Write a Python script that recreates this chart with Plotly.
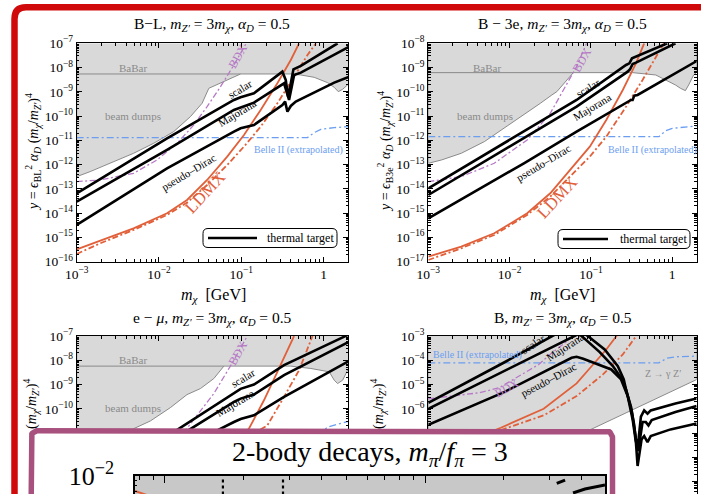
import numpy as np
import plotly.graph_objects as go

W, H = 701, 494
SERIF = "Liberation Serif"

# ================= DATA: log10(m_chi / GeV) and log10(y) =================
# ---- Panel 1: B-L ----
bl_excl_lm = [-3.0, -3.0, -2.837, -2.593, -2.309, -2.065, -1.821, -1.618, -1.476, -1.394, -1.211, -1.008,
              -0.398, -0.276, -0.114, 0.049, 0.130, 0.179, 0.232, 0.313, 0.313]
bl_excl_ly = [-7.0, -12.495, -12.288, -11.945, -11.533, -11.121, -10.640, -10.022, -9.473, -8.854, -8.580, -8.264,
              -8.264, -8.305, -8.401, -8.621, -8.813, -8.992, -8.896, -8.648, -7.0]
bl_babar_lm = [-3.0, -1.008]
bl_babar_ly = [-8.264, -8.264]
bl_scalar_lm = [-3.0, -1.902, -1.089, -1.008, -0.846, -0.500, -0.459, -0.431, -0.398, -0.366, -0.276, 0.171]
bl_scalar_ly = [-13.181, -10.915, -9.335, -9.225, -9.060, -8.168, -8.511, -9.198, -8.648, -8.071, -7.934, -7.0]
bl_major_lm = [-3.0, -1.902, -1.089, -1.008, -0.846, -0.480, -0.447, -0.419, -0.390, -0.358, -0.276, 0.313]
bl_major_ly = [-13.525, -11.396, -9.747, -9.637, -9.445, -8.648, -8.992, -9.335, -8.854, -8.305, -8.209, -7.137]
bl_pdirac_lm = [-3.0, -1.902, -1.089, -1.008, -0.846, -0.500, -0.467, -0.439, -0.398, -0.337, 0.130, 0.313]
bl_pdirac_ly = [-14.486, -12.151, -10.640, -10.503, -10.365, -9.541, -9.404, -9.816, -9.582, -9.404, -8.621, -8.374]
bl_ldmx_lm = [-3.0, -2.715, -2.309, -1.902, -1.659, -1.415, -1.171, -0.967, -0.764, -0.561, -0.398, -0.297]
bl_ldmx_ly = [-15.489, -15.132, -14.624, -14.005, -13.456, -12.632, -11.670, -10.777, -9.747, -8.648, -7.687, -7.0]
bl_ldmx2_lm = [-3.0, -2.715, -2.309, -1.902, -1.659, -1.415, -1.171, -0.967, -0.764, -0.561, -0.358, -0.195, -0.093]
bl_ldmx2_ly = [-15.681, -15.242, -14.692, -14.074, -13.566, -12.838, -12.014, -11.258, -10.434, -9.473, -8.374, -7.481, -7.0]
bl_bdx_lm = [-3.0, -2.715, -2.309, -2.024, -1.780, -1.577, -1.415, -1.252, -1.089, -0.967, -0.939]
bl_bdx_ly = [-12.701, -12.632, -12.357, -11.808, -11.121, -10.365, -9.610, -8.786, -7.893, -7.137, -7.0]
bl_belle_lm = [-3.0, -0.195, -0.114, -0.033, 0.130, 0.313]
bl_belle_ly = [-10.887, -10.887, -10.681, -10.544, -10.475, -10.434]

# ---- Panel 2: B - 3e ----
b3e_excl_lm = [-3.0, -3.0, -2.838, -2.595, -2.311, -2.068, -1.824, -1.622, -1.480, -1.419, -1.216, -0.487,
               -0.203, -0.081, 0.040, 0.101, 0.162, 0.202, 0.263, 0.301, 0.301]
b3e_excl_ly = [-8.0, -12.945, -12.808, -12.533, -12.052, -11.503, -10.953, -10.473, -10.129, -9.992, -9.209, -9.209,
               -9.305, -9.511, -9.717, -9.854, -9.951, -9.717, -9.305, -9.2, -8.0]
b3e_babar_lm = [-3.0, -1.216]
b3e_babar_ly = [-9.209, -9.209]
b3e_scalar_lm = [-3.0, -1.824, -1.176, -0.568, -0.527, -0.495, -0.446, -0.365, -0.061]
b3e_scalar_ly = [-13.975, -11.640, -10.335, -8.893, -8.824, -8.618, -8.549, -8.440, -8.0]
b3e_major_lm = [-3.0, -1.824, -1.176, -0.548, -0.519, -0.487, -0.446, 0.040]
b3e_major_ly = [-14.250, -11.915, -10.610, -9.168, -9.071, -8.852, -8.797, -8.0]
b3e_pdirac_lm = [-3.0, -1.824, -1.176, -0.507, -0.487, -0.467, -0.426, 0.301]
b3e_pdirac_ly = [-15.212, -12.945, -11.640, -10.335, -10.335, -10.157, -10.129, -8.73]
b3e_ldmx_lm = [-3.0, -2.595, -2.189, -1.784, -1.500, -1.257, -1.014, -0.811, -0.608, -0.446, -0.345]
b3e_ldmx_ly = [-16.791, -16.379, -15.830, -15.005, -14.181, -13.220, -12.258, -11.159, -9.923, -8.824, -8.0]
b3e_ldmx2_lm = [-3.0, -2.595, -2.189, -1.784, -1.500, -1.257, -1.014, -0.811, -0.568, -0.365, -0.203, -0.102]
b3e_ldmx2_ly = [-16.929, -16.448, -15.898, -15.074, -14.319, -13.495, -12.670, -11.846, -10.610, -9.511, -8.549, -8.0]
b3e_bdx_lm = [-3.0, -2.595, -2.189, -1.784, -1.500, -1.338, -1.176, -1.054]
b3e_bdx_ly = [-13.701, -13.495, -12.945, -11.984, -10.885, -9.923, -8.962, -8.0]
b3e_belle_lm = [-3.0, -0.163, -0.081, 0.0, 0.301]
b3e_belle_ly = [-11.846, -11.846, -11.599, -11.503, -11.407]

# ---- Panel 3: e - mu ----
emu_excl_lm = [-3.0, -3.0, -2.593, -2.309, -2.106, -1.862, -1.659, -1.496, -1.333, -1.211, -0.398, -0.154,
               0.069, 0.130, 0.171, 0.232, 0.313, 0.313]
emu_excl_ly = [-7.0, -12.683, -11.579, -10.821, -10.503, -9.952, -9.414, -9.166, -8.752, -8.241, -8.241, -8.338,
               -8.476, -8.821, -8.959, -8.821, -8.269, -7.0]
emu_babar_lm = [-3.0, -1.211]
emu_babar_ly = [-8.241, -8.241]
emu_scalar_lm = [-3.0, -1.821, -1.089, -1.008, -0.846, -0.480, 0.252, 0.313]
emu_scalar_ly = [-13.538, -10.959, -9.345, -9.179, -9.0, -8.200, -7.028, -6.917]
emu_major_lm = [-3.0, -1.659, -1.089, -1.008, -0.846, -0.480, 0.313]
emu_major_ly = [-13.924, -10.917, -9.717, -9.579, -9.414, -8.614, -7.234]
emu_pdirac_lm = [-3.0, -1.333, -1.089, -1.008, -0.846, -0.480, 0.313]
emu_pdirac_ly = [-14.628, -10.959, -10.545, -10.421, -10.269, -9.510, -8.021]
emu_ldmx_lm = [-3.0, -2.715, -2.309, -1.902, -1.659, -1.415, -1.171, -0.907, -0.724, -0.561, -0.459, -0.358]
emu_ldmx_ly = [-15.489, -15.132, -14.624, -14.005, -13.456, -12.632, -11.670, -10.821, -9.648, -8.476, -7.717, -7.0]
emu_ldmx2_lm = [-3.0, -2.715, -2.309, -1.902, -1.659, -1.415, -1.171, -0.967, -0.683, -0.480, -0.297, -0.134]
emu_ldmx2_ly = [-15.681, -15.242, -14.692, -14.074, -13.566, -12.838, -12.014, -11.258, -10.683, -9.510, -8.407, -7.0]
emu_bdx_lm = [-3.0, -2.715, -2.309, -2.024, -1.679, -1.333, -1.089, -0.927]
emu_bdx_ly = [-12.701, -12.632, -12.357, -11.808, -10.890, -9.372, -7.993, -7.0]
emu_belle_lm = [-3.0, -0.033, 0.049, 0.313]
emu_belle_ly = [-11.0, -11.0, -10.752, -10.503]

# ---- Panel 4: B ----
b_excl_lm = [-3.0, -3.0, 0.301, 0.301]
b_excl_ly = [-3.0, -10.01, -4.794, -3.0]
b_scalar_lm = [-3.0, -2.068, -1.216, -1.034, -0.831, -0.669, -0.596, -0.568, -0.535, -0.499, -0.463, -0.434,
               -0.414, -0.385, -0.345, -0.304, -0.264, 0.040, 0.300]
b_scalar_ly = [-5.750, -4.091, -2.527, -3.007, -3.556, -4.241, -4.790, -5.202, -5.586, -6.093, -6.848, -7.602,
               -7.259, -6.326, -6.066, -6.203, -6.066, -5.778, -5.572]
b_major_lm = [-3.0, -2.068, -1.176, -1.148, -1.103, -0.892, -0.730, -0.629, -0.576, -0.544, -0.507, -0.471,
              -0.442, -0.418, -0.394, -0.365, -0.325, -0.292, -0.252, 0.040, 0.300]
b_major_ly = [-5.997, -4.461, -2.979, -2.911, -3.034, -3.665, -4.241, -4.722, -5.133, -5.476, -5.915, -6.601,
              -7.396, -7.740, -7.122, -6.546, -6.546, -6.683, -6.464, -6.134, -5.888]
b_pdirac_lm = [-3.0, -2.068, -1.237, -1.176, -1.095, -0.750, -0.629, -0.548, -0.487, -0.446, -0.426, -0.398,
               -0.377, -0.345, -0.304, -0.264, -0.021, 0.300]
b_pdirac_ly = [-6.656, -5.311, -3.898, -3.857, -3.940, -4.379, -4.790, -5.476, -6.436, -7.396, -8.357, -7.740,
               -7.259, -7.122, -7.369, -7.122, -6.848, -6.601]
b_ldmx_lm = [-3.0, -2.108, -1.581, -1.176, -0.973, -0.811, -0.681]
b_ldmx_ly = [-7.945, -6.779, -5.997, -4.955, -4.173, -3.556, -2.979]
b_ldmx2_lm = [-3.0, -2.108, -1.581, -1.176, -0.852, -0.608, -0.438]
b_ldmx2_ly = [-8.055, -6.875, -6.271, -5.476, -4.584, -3.761, -2.979]
b_bdx_lm = [-3.0, -2.372, -2.128, -1.885, -1.642, -1.480, -1.318, -1.216]
b_bdx_ly = [-5.586, -5.339, -5.133, -4.653, -4.173, -3.693, -3.281, -2.979]
b_belle_lm = [-3.0, -0.163, -0.061, 0.040, 0.300]
b_belle_ly = [-4.104, -4.104, -3.912, -3.857, -3.830]

# ---- Inset: 2-body decays (only its top strip is visible) ----
ins_dot_lm = [-1.777, -1.546]
ins_dot_ly = [-2.035, -2.30]
ins_seg_lm = [-0.4935, -0.4615]
ins_seg_ly = [-2.073, -2.040]
ins_curve_lm = [-0.431, -0.385, -0.308]
ins_curve_ly = [-2.170, -2.130, -2.090]
ins_orange_lm = [-2.115, -2.070]
ins_orange_ly = [-2.150, -2.190]

# ================= STYLE =================
GRAY_FILL = "#d9d9d9"
GRAY_LINE = "#8a8a8a"
ORANGE = "#e1603a"
PURPLE = "#b679c6"
BLUE = "#6b9ef0"
BOX = "#a8507e"
RED = "#d00a0a"


def lin(v):
    return [10.0 ** t for t in v]


fig = go.Figure()


def line(lm, ly, ax, color, width, dash="solid"):
    fig.add_trace(go.Scatter(x=lin(lm), y=lin(ly), mode="lines", xaxis=ax[0], yaxis=ax[1],
                             line=dict(color=color, width=width, dash=dash), hoverinfo="skip"))


def region(lm, ly, ax, color=GRAY_FILL, lcolor=GRAY_LINE):
    fig.add_trace(go.Scatter(x=lin(lm), y=lin(ly), mode="lines", fill="toself", fillcolor=color,
                             xaxis=ax[0], yaxis=ax[1], line=dict(color=lcolor, width=1), hoverinfo="skip"))


DD = "6px,2.5px,2px,2.5px"
BD = "7px,3px,2px,3px"

panels = [
    (("x", "y"), bl_excl_lm, bl_excl_ly, (bl_babar_lm, bl_babar_ly), bl_belle_lm, bl_belle_ly, bl_bdx_lm, bl_bdx_ly,
     bl_ldmx_lm, bl_ldmx_ly, bl_ldmx2_lm, bl_ldmx2_ly,
     [(bl_scalar_lm, bl_scalar_ly), (bl_major_lm, bl_major_ly), (bl_pdirac_lm, bl_pdirac_ly)]),
    (("x2", "y2"), b3e_excl_lm, b3e_excl_ly, (b3e_babar_lm, b3e_babar_ly), b3e_belle_lm, b3e_belle_ly, b3e_bdx_lm,
     b3e_bdx_ly, b3e_ldmx_lm, b3e_ldmx_ly, b3e_ldmx2_lm, b3e_ldmx2_ly,
     [(b3e_scalar_lm, b3e_scalar_ly), (b3e_major_lm, b3e_major_ly), (b3e_pdirac_lm, b3e_pdirac_ly)]),
    (("x3", "y3"), emu_excl_lm, emu_excl_ly, (emu_babar_lm, emu_babar_ly), emu_belle_lm, emu_belle_ly, emu_bdx_lm,
     emu_bdx_ly, emu_ldmx_lm, emu_ldmx_ly, emu_ldmx2_lm, emu_ldmx2_ly,
     [(emu_scalar_lm, emu_scalar_ly), (emu_major_lm, emu_major_ly), (emu_pdirac_lm, emu_pdirac_ly)]),
    (("x4", "y4"), b_excl_lm, b_excl_ly, None, b_belle_lm, b_belle_ly, b_bdx_lm, b_bdx_ly,
     b_ldmx_lm, b_ldmx_ly, b_ldmx2_lm, b_ldmx2_ly,
     [(b_scalar_lm, b_scalar_ly), (b_major_lm, b_major_ly), (b_pdirac_lm, b_pdirac_ly)]),
]

for (ax, exlm, exly, babar, bellm, belly, bdlm, bdly, l1m, l1y, l2m, l2y, thermal) in panels:
    region(exlm, exly, ax)
    if babar is not None:
        line(babar[0], babar[1], ax, GRAY_LINE, 1)
    line(bellm, belly, ax, BLUE, 1.3, BD)
    line(bdlm, bdly, ax, PURPLE, 1.3, DD)
    line(l1m, l1y, ax, ORANGE, 1.8)
    line(l2m, l2y, ax, ORANGE, 1.8, DD)
    for (tm, ty) in thermal:
        line(tm, ty, ax, "black", 2.6)

# ---- cover card (white box with purple border), drawn as a trace in a full-page pixel subplot ----
L, R, T, B, r = 30.75, 612.5, 430.75, 540.0, 7.0
th1 = np.linspace(np.pi, 1.5 * np.pi, 12)
th2 = np.linspace(1.5 * np.pi, 2 * np.pi, 12)
cx = [L] + list(L + r + r * np.cos(th1)) + list(R - r + r * np.cos(th2)) + [R, L]
cy = [B] + list(T + r + r * np.sin(th1)) + list(T + r + r * np.sin(th2)) + [B, B]
fig.add_trace(go.Scatter(x=cx, y=cy, mode="lines", fill="toself", fillcolor="white",
                         line=dict(color=BOX, width=5.5), xaxis="x5", yaxis="y5", hoverinfo="skip"))

# ---- inset plot ----
fig.add_trace(go.Scatter(x=[10 ** -2.5, 10 ** 0.2, 10 ** 0.2, 10 ** -2.5], y=[10 ** -2.5, 10 ** -2.5, 10 ** -1.8, 10 ** -1.8],
                         mode="lines", fill="toself", fillcolor="#c8c8c8", line=dict(width=0),
                         xaxis="x6", yaxis="y6", hoverinfo="skip"))
for v in ins_dot_lm:
    line([v, v], ins_dot_ly, ("x6", "y6"), "black", 2.2, "dot")
line(ins_seg_lm, ins_seg_ly, ("x6", "y6"), "black", 3)
line(ins_curve_lm, ins_curve_ly, ("x6", "y6"), "black", 3)
line(ins_orange_lm, ins_orange_ly, ("x6", "y6"), ORANGE, 2)


# ================= AXES =================
def ttext(e):
    if e == 0:
        return "1"
    return "10<sup>" + ("−" if e < 0 else "") + str(abs(e)) + "</sup>"


def log_axis(lo, hi, rng, domain, anchor, labels=True, side=None, mirror="allticks", size=13.5, lab=None):
    major = list(range(lo, hi + 1))
    minor = [k * 10.0 ** e for e in range(lo - 1, hi + 1) for k in range(2, 10)]
    lab = lab if lab is not None else major
    d = dict(type="log", range=rng, domain=domain, anchor=anchor, showline=True, linecolor="black",
             linewidth=1, mirror=mirror, ticks="inside", ticklen=5, tickwidth=1, tickcolor="black",
             tickmode="array", tickvals=[10.0 ** e for e in major],
             ticktext=[ttext(e) if e in lab else "" for e in major],
             minor=dict(tickmode="array", tickvals=minor, ticks="inside", ticklen=2.5, tickwidth=0.8,
                        tickcolor="black", showgrid=False),
             showgrid=False, zeroline=False, showticklabels=labels, automargin=False,
             tickfont=dict(family=SERIF, size=size, color="black"), fixedrange=True)
    if side:
        d["side"] = side
    return d


XR = [-3, np.log10(2.0)]
dx1 = [76.7 / W, 348.3 / W]
dx2 = [428.3 / W, 696.7 / W]
dyt = [1 - 261.7 / H, 1 - 43.3 / H]
dyb = [0, 1 - 336.0 / H]

layout = dict(
    xaxis=log_axis(-3, 0, XR, dx1, "y"),
    yaxis=log_axis(-16, -7, [-16, -7], dyt, "x"),
    xaxis2=log_axis(-3, 0, XR, dx2, "y2"),
    yaxis2=log_axis(-17, -8, [-17, -8], dyt, "x2"),
    xaxis3=log_axis(-3, 0, XR, dx1, "y3", labels=False, side="top", mirror=False),
    yaxis3=log_axis(-14, -7, [-7 - 158 / 24.27, -7], dyb, "x3", lab=[-7, -8, -9, -10]),
    xaxis4=log_axis(-3, 0, XR, dx2, "y4", labels=False, side="top", mirror=False),
    yaxis4=log_axis(-10, -3, [-3 - 158 / 24.27, -3], dyb, "x4", lab=[-3, -4, -5, -6]),
    xaxis5=dict(domain=[0, 1], range=[0, W], visible=False, anchor="y5", fixedrange=True, automargin=False),
    yaxis5=dict(domain=[0, 1], range=[H, 0], visible=False, anchor="x5", fixedrange=True, automargin=False),
)
ax6 = log_axis(-2, -1, [-2.115, -0.308], [135 / W, 605 / W], "y6", labels=False, side="top", mirror=True)
ax6.update(ticklen=7, linewidth=1.5)
ax6["minor"]["ticklen"] = 4
ay6 = log_axis(-2, -2, [-2.18, -1.999], [0, 18 / H], "x6", size=26, mirror=True)
ay6.update(ticklabelstandoff=14, linewidth=1.5)
layout["xaxis6"] = ax6
layout["yaxis6"] = ay6

fig.update_layout(**layout)
fig.update_layout(width=W, height=H, margin=dict(l=0, r=0, t=0, b=0, pad=0, autoexpand=False), showlegend=False,
                  paper_bgcolor="white", plot_bgcolor="rgba(0,0,0,0)", hovermode=False)


# ================= TEXT =================
def ann(text, x, y, size=11, color="black", angle=0):
    fig.add_annotation(text=text, x=x / W, y=1 - y / H, xref="paper", yref="paper", showarrow=False,
                       font=dict(family=SERIF, size=size, color=color), textangle=angle,
                       xanchor="center", yanchor="middle")


tail = ", <i>m</i><sub><i>Z′</i></sub> = 3<i>m</i><sub><i>χ</i></sub>, <i>α</i><sub><i>D</i></sub> = 0.5"
ann("B−L" + tail, 212, 25, 15.5)
ann("B − 3e" + tail, 562, 25, 15.5)
ann("e − <i>μ</i>" + tail, 212, 318, 15.5)
ann("B" + tail, 563, 318, 15.5)
xt = "<i>m</i><sub><i>χ</i></sub>  [GeV]"
ann(xt, 213, 295, 16)
ann(xt, 562, 295, 16)
yt_end = "(<i>m</i><sub><i>χ</i></sub>/<i>m</i><sub><i>Z′</i></sub>)<sup>4</sup>"
ann("<i>y</i> = <i>ϵ</i><sub>BL</sub><sup>2</sup> <i>α</i><sub><i>D</i></sub> " + yt_end, 33, 152, 14, angle=-90)
ann("<i>y</i> = <i>ϵ</i><sub>B3e</sub><sup>2</sup> <i>α</i><sub><i>D</i></sub> " + yt_end, 385, 152, 14, angle=-90)
ann(yt_end, 31, 404, 14, angle=-90)
ann(yt_end, 378, 404, 14, angle=-90)

# panel 1 labels
ann("BaBar", 133, 68, 11, GRAY_LINE)
ann("beam dumps", 133, 116, 11, GRAY_LINE)
ann("BDX", 238, 56, 12, PURPLE, -60)
ann("scalar", 240, 89, 11, "black", -31)
ann("Majorana", 237, 113, 11, "black", -31)
ann("pseudo–Dirac", 189, 172, 11, "black", -31)
ann("LDMX", 205, 192, 17, ORANGE, -47)
ann("Belle II (extrapolated)", 298, 150, 10, BLUE)
# panel 2 labels
ann("BaBar", 487, 68, 11, GRAY_LINE)
ann("beam dumps", 485, 116, 11, GRAY_LINE)
ann("BDX", 582, 60, 12, PURPLE, -60)
ann("scalar", 588, 88, 11, "black", -31)
ann("Majorana", 592, 107, 11, "black", -31)
ann("pseudo–Dirac", 543, 163, 11, "black", -31)
ann("LDMX", 557, 197, 17, ORANGE, -47)
ann("Belle II (extrapolated)", 652, 150, 10, BLUE)
# panel 3 labels
ann("BaBar", 133, 360, 11, GRAY_LINE)
ann("beam dumps", 133, 408, 11, GRAY_LINE)
ann("BDX", 238, 353, 12, PURPLE, -60)
ann("scalar", 243, 378, 11, "black", -31)
ann("Majorana", 235, 403, 11, "black", -31)
# panel 4 labels
ann("Belle II (extrapolated)", 477, 355, 10, BLUE)
ann("scalar", 533, 344, 11, "black", -33)
ann("Majorana", 565, 347, 11, "black", -33)
ann("pseudo–Dirac", 548, 380, 11, "black", -28)
ann("BDX", 507, 388, 12, PURPLE, -28)
ann("Z → γ Z′", 663, 373, 10, GRAY_LINE)

# inset title
ann("2-body decays, <i>m</i><sub><i>π</i></sub>/<i>f</i><sub><i>π</i></sub> = 3", 370, 453, 28)


# legends "thermal target"
def px(x):
    return x / W


def py(y):
    return 1 - y / H


def rrect(x0, y0, x1, y1, rr):
    return (f"M {px(x0 + rr)},{py(y0)} L {px(x1 - rr)},{py(y0)} Q {px(x1)},{py(y0)} {px(x1)},{py(y0 + rr)} "
            f"L {px(x1)},{py(y1 - rr)} Q {px(x1)},{py(y1)} {px(x1 - rr)},{py(y1)} L {px(x0 + rr)},{py(y1)} "
            f"Q {px(x0)},{py(y1)} {px(x0)},{py(y1 - rr)} L {px(x0)},{py(y0 + rr)} Q {px(x0)},{py(y0)} {px(x0 + rr)},{py(y0)} Z")


for (x0, y0, x1, y1, lx0, lx1, tx) in [(203, 228.5, 337, 247.5, 208, 257, 300), (558, 229.5, 690, 248.5, 563, 608, 653)]:
    fig.add_shape(type="path", path=rrect(x0, y0, x1, y1, 5), xref="paper", yref="paper",
                  line=dict(color="black", width=1), fillcolor="white", layer="above")
    fig.add_shape(type="line", x0=px(lx0), x1=px(lx1), y0=py((y0 + y1) / 2), y1=py((y0 + y1) / 2),
                  xref="paper", yref="paper", line=dict(color="black", width=2.6), layer="above")
    ann("thermal target", tx, (y0 + y1) / 2, 12)

# red slide frame
fig.add_shape(type="path", xref="paper", yref="paper", layer="above",
              path=f"M {px(14.5)},{py(520)} L {px(14.5)},{py(19)} Q {px(14.5)},{py(7.3)} {px(26)},{py(7.3)} L {px(720)},{py(7.3)}",
              line=dict(color=RED, width=6.5))

fig.write_html("out.html", include_plotlyjs=True, config={"displayModeBar": False},
               post_script="document.body.style.margin='0';document.body.style.overflow='hidden';")
